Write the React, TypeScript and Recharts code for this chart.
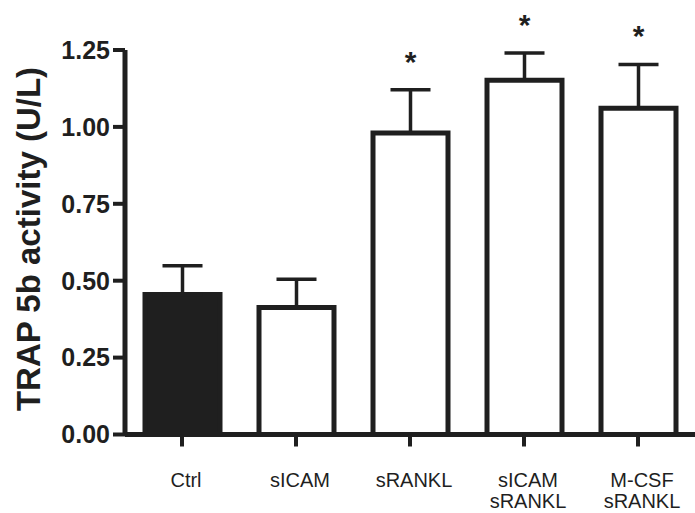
import React from 'react';
import { BarChart, Bar, XAxis, YAxis, ErrorBar, Cell, LabelList } from 'recharts';

const categories = ['Ctrl', 'sICAM', 'sRANKL', 'sICAM\nsRANKL', 'M-CSF\nsRANKL'];
const means = [0.455, 0.413, 0.98, 1.152, 1.061];
const sem = [0.094, 0.092, 0.141, 0.088, 0.142];
const significance = ['', '', '*', '*', '*'];
const barFills = ['#1f1f1f', '#ffffff', '#ffffff', '#ffffff', '#ffffff'];
const yTicks = [0, 0.25, 0.5, 0.75, 1.0, 1.25];
const yLabel = 'TRAP 5b activity (U/L)';

const data = categories.map((c, i) => ({
  name: c,
  mean: means[i],
  err: [0, sem[i]],
  star: significance[i],
}));

const INK = '#1f1f1f';
const FONT = '"Liberation Sans", Arial, Helvetica, sans-serif';

const XTick = (props: any) => {
  const { x, y, payload } = props;
  const lines = String(payload.value).split('\n');
  return (
    <g>
      {lines.map((l: string, i: number) => (
        <text
          key={i}
          x={x + 4}
          y={y + 38 + i * 21}
          textAnchor="middle"
          fontSize={20}
          fontFamily={FONT}
          fill={INK}
        >
          {l}
        </text>
      ))}
    </g>
  );
};

const StarLabel = (props: any) => {
  const { x, y, width, height, index } = props;
  const s = significance[index];
  if (!s) return null;
  const perUnit = height / means[index];
  const errTop = y - sem[index] * perUnit;
  return (
    <text
      x={x + width / 2}
      y={errTop - 18}
      textAnchor="middle"
      fontSize={30}
      fontWeight="bold"
      fontFamily={FONT}
      fill={INK}
    >
      {s}
    </text>
  );
};

const YLabel = () => (
  <text
    x={40}
    y={239}
    transform="rotate(-90 40 239)"
    textAnchor="middle"
    fontSize={33}
    fontWeight="bold"
    fontFamily={FONT}
    fill={INK}
  >
    {yLabel}
  </text>
);

export default function App() {
  return (
    <div style={{ position: 'absolute', left: 0, top: 0, background: '#fff' }}>
      <BarChart
        width={695}
        height={513}
        data={data}
        margin={{ top: 50, right: 0, bottom: 0, left: 0 }}
        barSize={75}
      >
        <XAxis
          dataKey="name"
          axisLine={{ stroke: INK, strokeWidth: 5 }}
          tickLine={{ stroke: INK, strokeWidth: 4 }}
          tickSize={12}
          tick={<XTick />}
          interval={0}
          height={78.5}
        />
        <YAxis
          domain={[0, 1.25]}
          ticks={yTicks}
          width={125}
          axisLine={{ stroke: INK, strokeWidth: 5 }}
          tickLine={{ stroke: INK, strokeWidth: 4 }}
          tickSize={12}
          tickMargin={3}
          tickFormatter={(v: number) => v.toFixed(2)}
          tick={{ fontSize: 25, fontWeight: 'bold', fontFamily: FONT, fill: INK }}
          label={{ value: yLabel, content: () => <YLabel /> }}
        />
        <Bar dataKey="mean" stroke={INK} strokeWidth={5} isAnimationActive={false}>
          {data.map((d, i) => (
            <Cell key={i} fill={barFills[i]} />
          ))}
          <ErrorBar dataKey="err" direction="y" width={20} stroke={INK} strokeWidth={3.5} />
          <LabelList dataKey="star" content={<StarLabel />} />
        </Bar>
      </BarChart>
    </div>
  );
}
